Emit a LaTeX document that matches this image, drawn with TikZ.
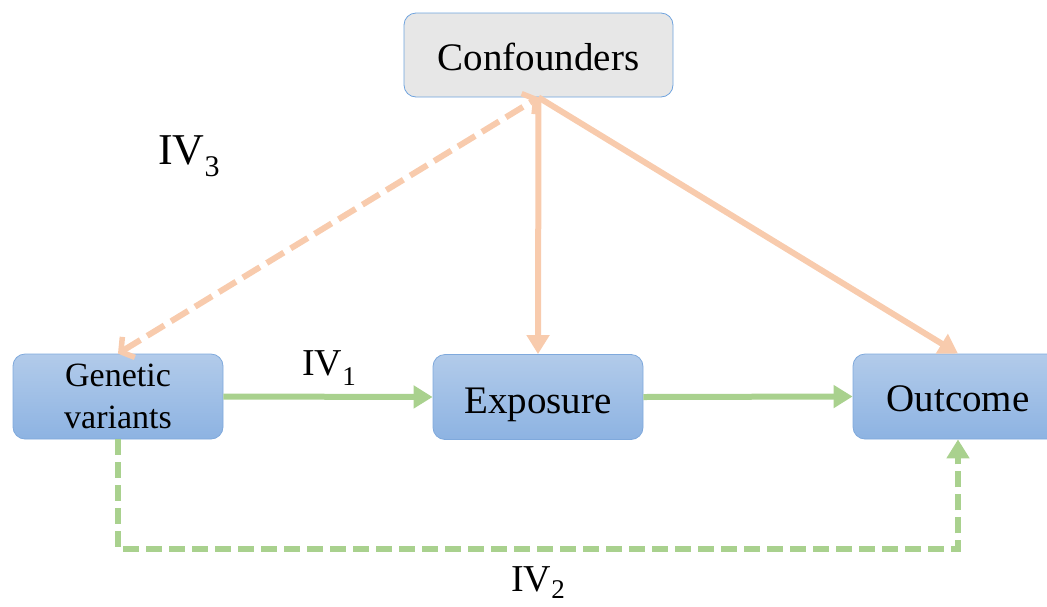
\documentclass[tikz,border=0pt]{standalone}
\usepackage{fontspec}
\setmainfont{Liberation Serif}
\usetikzlibrary{arrows.meta}
\definecolor{boxtop}{HTML}{B2CBEA}
\definecolor{boxbot}{HTML}{8DB3E2}
\definecolor{boxline}{HTML}{7FA9DC}
\definecolor{confill}{HTML}{E7E7E7}
\definecolor{conline}{HTML}{6FA3DE}
\definecolor{orangeln}{HTML}{F8CBAD}
\definecolor{greenln}{HTML}{A9D18E}
\newcommand{\ivlab}[3]{IV\raisebox{#3}{\fontsize{#2}{#2}\selectfont #1}}
\newcommand{\basedown}[2]{\raisebox{-#1}[0pt][0pt]{#2}}
\tikzset{
  bluebox/.style={draw=boxline, line width=0.8pt, rounded corners=12pt,
    top color=boxtop, bottom color=boxbot, minimum width=210pt, minimum height=85pt,
    inner sep=0pt, align=center, font=\fontsize{39}{47}\selectfont},
  graybox/.style={draw=conline, line width=0.8pt, rounded corners=12pt,
    fill=confill, minimum width=269pt, minimum height=84pt,
    inner sep=0pt, font=\fontsize{39}{47}\selectfont},
  orarrow/.style={draw=orangeln, line width=6pt, -{Triangle[length=19pt,width=22pt]}},
  ordash/.style={draw=orangeln, line width=6pt, dash pattern=on 20pt off 8pt,
    {Straight Barb[length=9pt,width=24pt,line width=5.5pt]}-{Straight Barb[length=9pt,width=24pt,line width=5.5pt]}},
  grarrow/.style={draw=greenln, line width=6pt, -{Triangle[length=19pt,width=22pt]}},
  grdash/.style={draw=greenln, line width=6pt, dash pattern=on 16pt off 7pt, -{Triangle[length=19pt,width=22pt]}},
  ivstyle/.style={inner sep=0pt, anchor=base west}
}
\begin{document}
\begin{tikzpicture}[x=1pt,y=-1pt]
\useasboundingbox (0,0) rectangle (1047,606);
\node[graybox] (conf) at (538.5,55) {\basedown{15pt}{Confounders}};
\node[bluebox, font=\fontsize{34}{42}\selectfont] (gen) at (118,396.5) {Genetic\\variants};
\node[bluebox] (expo) at (538,397) {\basedown{16pt}{Exposure}};
\node[bluebox] (outc) at (958,396.5) {\basedown{14.5pt}{Outcome}};
\draw[ordash] (gen.north) -- (conf.south);
\draw[orarrow] (conf.south) -- (expo.north);
\draw[orarrow] (conf.south) -- (outc.north);
\draw[grarrow] (gen.east) -- (expo.west);
\draw[grarrow] (expo.east) -- (outc.west);
\draw[grdash] (gen.south) -- ++(0,110) coordinate (turn) -| (outc.south);
\node[ivstyle, font=\fontsize{44}{44}\selectfont] (iv3) at (158,164) {\ivlab{3}{30}{-0.28em}};
\node[ivstyle, font=\fontsize{38}{38}\selectfont] (iv1) at (302,375) {\ivlab{1}{27}{-0.28em}};
\node[ivstyle, font=\fontsize{38}{38}\selectfont] (iv2) at (511,591) {\ivlab{2}{27}{-0.2em}};
\end{tikzpicture}
\end{document}
